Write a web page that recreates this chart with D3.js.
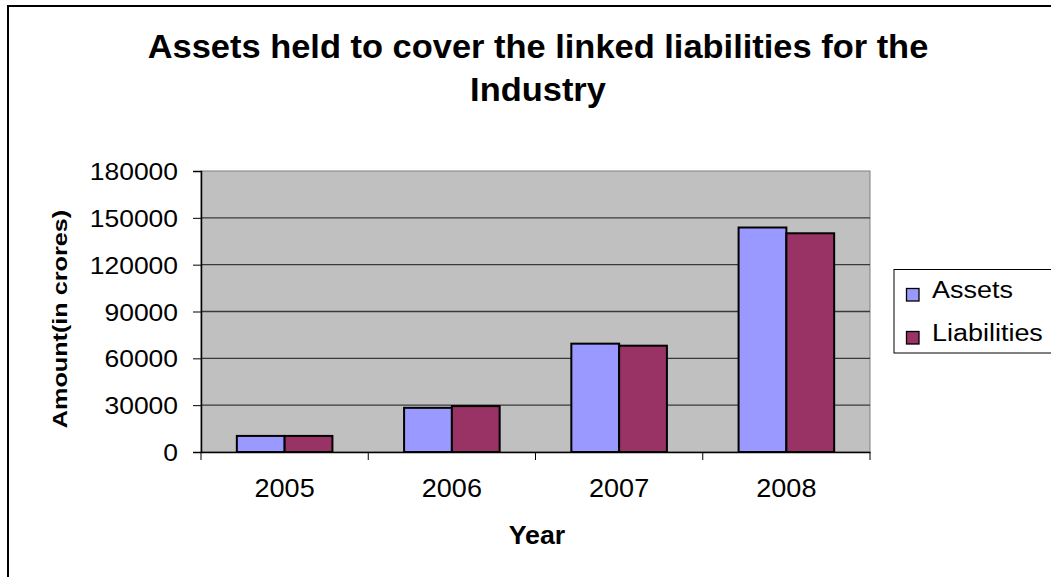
<!DOCTYPE html>
<html><head><meta charset="utf-8">
<script src="https://cdn.jsdelivr.net/npm/d3@7"></script>
<style>body{margin:0;background:#fff}svg{display:block}text{font-family:"Liberation Sans",Arial,sans-serif;fill:#000}</style>
</head><body>
<script>
const categories = ["2005","2006","2007","2008"];
const seriesNames = ["Assets","Liabilities"];
const assets = [10300, 28300, 69400, 143800];
const liabilities = [10300, 29400, 68100, 140100];
const yTicks = [0, 30000, 60000, 90000, 120000, 150000, 180000];
const colors = ["#9999FF", "#993366"];

const W = 1051, H = 577;
const svg = d3.select("body").append("svg").attr("width", W).attr("height", H);
svg.append("rect").attr("x", 8).attr("y", 6).attr("width", W + 10).attr("height", H + 10)
  .attr("fill", "#fff").attr("stroke", "#000").attr("stroke-width", 2);

function label(x, y, str, size, sx, anchor, weight, rot) {
  const g = svg.append("g").attr("transform", `translate(${x},${y})` + (rot ? ` rotate(${rot})` : "") + ` scale(${sx},1)`);
  g.append("text").attr("text-anchor", anchor).attr("font-size", size).attr("font-weight", weight || "normal").text(str);
  return g;
}

const plot = {l: 201, r: 870, t: 171, b: 452};
const x = d3.scaleBand().domain(categories).range([plot.l, plot.r]);
const inner = d3.scaleBand().domain(seriesNames).range([0, x.bandwidth()]).paddingInner(0).paddingOuter(0.75);
const y = d3.scaleLinear().domain([0, 180000]).range([plot.b, plot.t]);

svg.append("rect").attr("x", plot.l).attr("y", plot.t).attr("width", plot.r - plot.l).attr("height", plot.b - plot.t)
  .attr("fill", "#C0C0C0").attr("stroke", "#808080").attr("stroke-width", 1);

svg.append("g").selectAll("line").data(yTicks.filter(d => d > 0 && d < 180000)).join("line")
  .attr("x1", plot.l).attr("x2", plot.r).attr("y1", d => y(d)).attr("y2", d => y(d))
  .attr("stroke", "#3a3a3a").attr("stroke-width", 1.3);

const data = categories.map((c, i) => ({c, vals: [assets[i], liabilities[i]]}));
const g = svg.append("g").selectAll("g").data(data).join("g").attr("transform", d => `translate(${x(d.c)},0)`);
g.selectAll("rect").data(d => d.vals.map((v, j) => ({v, s: seriesNames[j], j}))).join("rect")
  .attr("x", d => inner(d.s)).attr("width", inner.bandwidth())
  .attr("y", d => y(d.v)).attr("height", d => y(0) - y(d.v))
  .attr("fill", d => colors[d.j]).attr("stroke", "#000").attr("stroke-width", 2);

// y axis
const ySx = 1.08;
const ya = svg.append("g").attr("transform", `translate(${plot.l},0)`)
  .call(d3.axisLeft(y).tickValues(yTicks).tickSize(8).tickPadding(0).tickFormat(d3.format("d")));
ya.select(".domain").attr("stroke", "#000").attr("stroke-width", 1.5);
ya.selectAll(".tick line").attr("stroke", "#000");
ya.selectAll("text").attr("font-size", 24.5).attr("fill", "#000")
  .attr("font-family", "Liberation Sans, Arial, sans-serif")
  .attr("x", -23 / ySx).attr("dy", "0.35em").attr("transform", `scale(${ySx},1)`);

// x axis
const xSx = 1.06;
const xa = svg.append("g").attr("transform", `translate(0,${plot.b})`)
  .call(d3.axisBottom(x).tickSize(0).tickPadding(0));
xa.select(".domain").attr("stroke", "#000").attr("stroke-width", 1.5);
xa.selectAll(".tick text").remove();
xa.selectAll(".tick").append("text").attr("y", 45).attr("text-anchor", "middle")
  .attr("font-size", 25.5).attr("transform", `scale(${xSx},1)`).text(d => d);
const bounds = categories.map(c => x(c)).concat([x(categories[categories.length - 1]) + x.bandwidth()]);
svg.append("g").selectAll("line").data(bounds).join("line")
  .attr("x1", d => d).attr("x2", d => d).attr("y1", plot.b).attr("y2", plot.b + 8)
  .attr("stroke", "#000").attr("stroke-width", 1);

// title
label(538, 58, "Assets held to cover the linked liabilities for the", 32.5, 1.06, "middle", "bold");
label(538, 101, "Industry", 32.5, 1.06, "middle", "bold");

// axis titles
label(66.5, 319, "Amount(in crores)", 21, 1.2, "middle", "bold", -90);
label(537, 544, "Year", 25, 1.07, "middle", "bold");

// legend
svg.append("rect").attr("x", 894).attr("y", 269.5).attr("width", 158).attr("height", 83.5)
  .attr("fill", "#fff").attr("stroke", "#000").attr("stroke-width", 1);
seriesNames.forEach((s, i) => {
  const yy = 298 + i * 43;
  svg.append("rect").attr("x", 906.5).attr("y", yy - 9.5).attr("width", 12.5).attr("height", 12.5)
    .attr("fill", colors[i]).attr("stroke", "#000").attr("stroke-width", 1.3);
  label(932, yy, s, 24.5, 1.1, "start", "normal");
});
</script>
</body></html>
